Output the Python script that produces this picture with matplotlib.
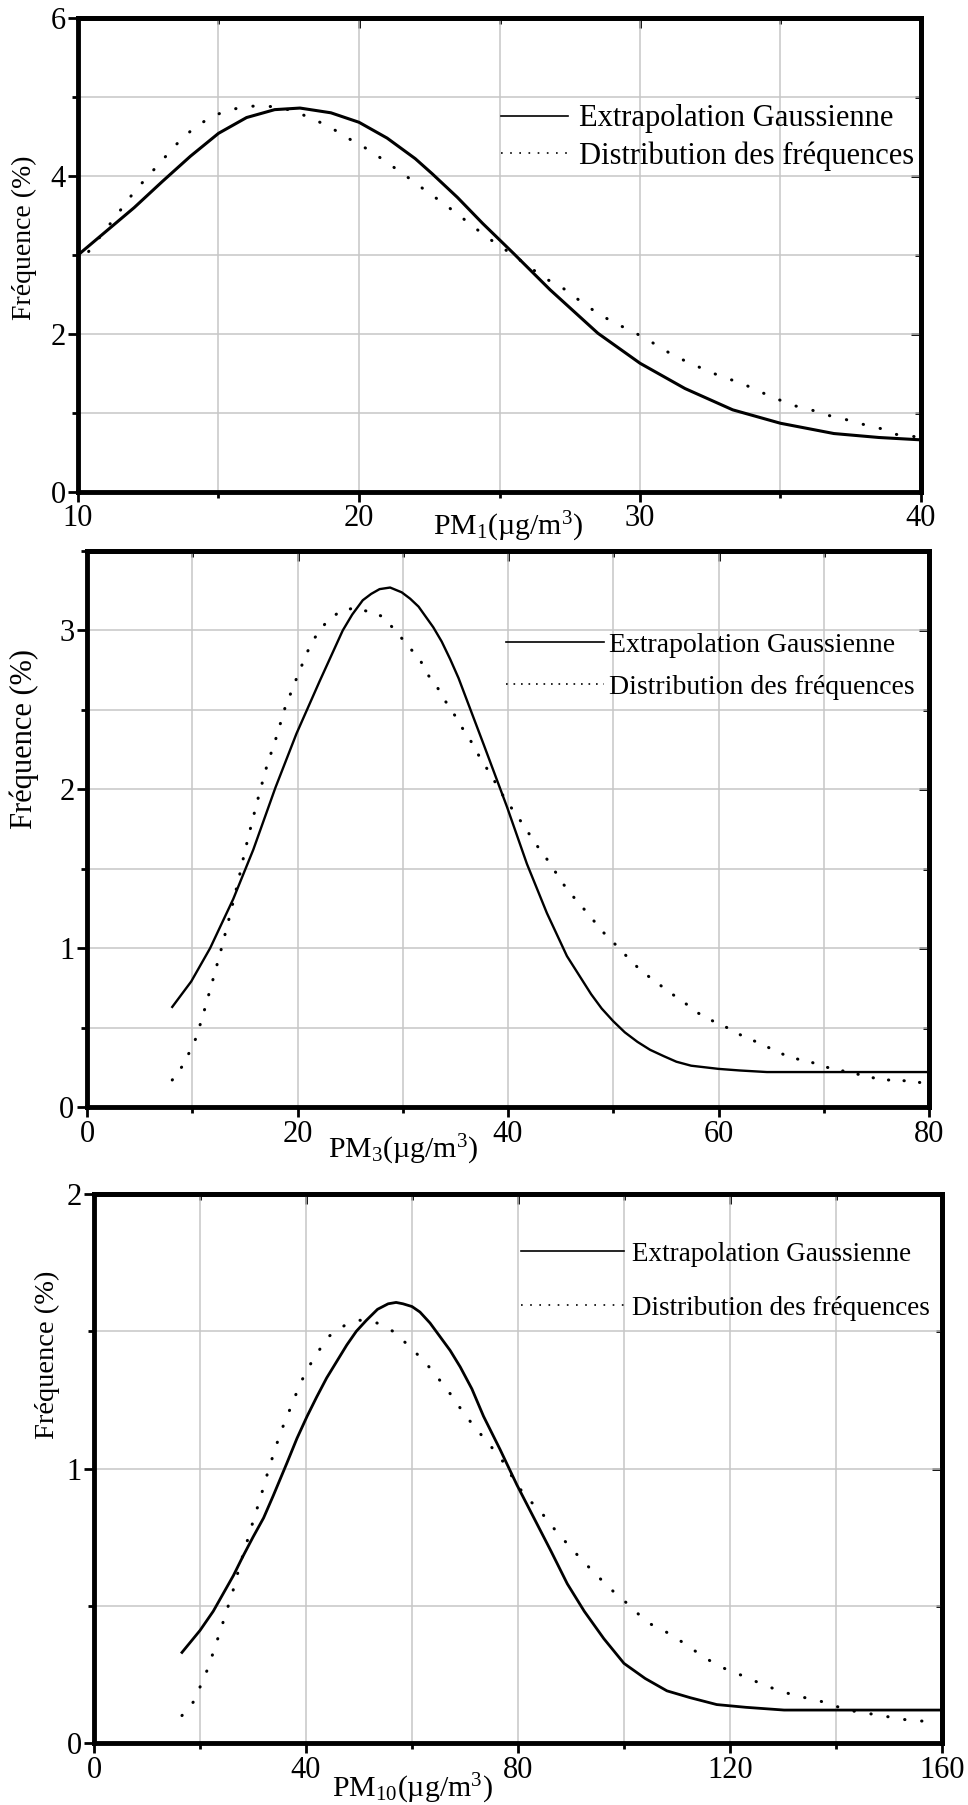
import matplotlib
matplotlib.use("Agg")
import matplotlib.pyplot as plt
from matplotlib.lines import Line2D
from matplotlib.ticker import MultipleLocator

plt.rcParams["font.family"] = ["Liberation Serif", "DejaVu Serif"]
plt.rcParams["mathtext.fontset"] = "custom"
plt.rcParams["mathtext.rm"] = "Liberation Serif"
plt.rcParams["mathtext.it"] = "Liberation Serif:italic"

# ---- data ----
# PM1 panel
pm1_gauss_x = [10, 11, 12, 13, 14, 15, 16, 17, 17.9, 19, 20, 21, 22, 22.6, 23.5,
               24.4, 25.5, 26.8, 28.5, 30, 31.6, 33.3, 35, 36.9, 38.5, 40]
pm1_gauss_y = [3.0, 3.3, 3.6, 3.93, 4.25, 4.54, 4.74, 4.84, 4.86, 4.80, 4.68, 4.48,
               4.22, 4.03, 3.73, 3.40, 3.02, 2.56, 2.01, 1.63, 1.31, 1.04, 0.87,
               0.74, 0.69, 0.66]
pm1_freq_x = [10, 10.5, 11.2, 12.0, 12.8, 13.5, 14.1, 14.7, 15.3, 16.0, 16.6, 17.3,
              17.9, 18.5, 19.1, 19.7, 20.4, 21.0, 21.6, 22.2, 22.9, 23.5, 24.1,
              24.7, 25.4, 26.6, 27.3, 27.9, 28.5, 29.1, 29.8, 30.4, 31.0, 31.6,
              32.3, 32.9, 33.6, 34.2, 34.8, 35.4, 36.0, 36.7, 37.3, 37.9, 38.6,
              39.1, 39.8]
pm1_freq_y = [2.87, 3.1, 3.42, 3.8, 4.12, 4.4, 4.6, 4.74, 4.83, 4.88, 4.89, 4.86,
              4.79, 4.70, 4.59, 4.46, 4.32, 4.17, 4.02, 3.86, 3.68, 3.52, 3.35,
              3.19, 3.02, 2.71, 2.57, 2.41, 2.26, 2.14, 2.02, 1.90, 1.77, 1.66,
              1.55, 1.46, 1.38, 1.28, 1.19, 1.10, 1.05, 0.97, 0.92, 0.86, 0.80,
              0.73, 0.70]

# PM3 panel
pm3_gauss_x = [8.1, 9.9, 11.7, 13.9, 15.8, 17.9, 19.9, 22.1, 24.3, 25.2, 26.2, 27.0,
               27.8, 28.8, 29.9, 30.7, 31.5, 32.9, 33.7, 34.5, 35.3, 36.1, 37.7,
               39.9, 41.8, 43.7, 45.6, 47.9, 48.9, 50.0, 51.1, 52.3, 53.5, 54.8,
               56.0, 57.4, 58.7, 60.0, 62.0, 64.6, 70.0, 80.0]
pm3_gauss_y = [0.63, 0.79, 1.0, 1.31, 1.62, 2.01, 2.35, 2.68, 3.0, 3.10, 3.19, 3.23,
               3.26, 3.27, 3.24, 3.20, 3.15, 3.02, 2.93, 2.82, 2.70, 2.56, 2.28,
               1.89, 1.53, 1.22, 0.95, 0.71, 0.62, 0.54, 0.47, 0.41, 0.36, 0.32,
               0.285, 0.26, 0.25, 0.24, 0.23, 0.22, 0.22, 0.22]
pm3_freq_x = [8.1, 9.2, 10.4, 11.2, 12.0, 12.7, 13.4, 14.4, 15.0, 15.7, 16.4, 17.1,
              18.0, 18.8, 19.8, 20.9, 21.6, 22.6, 24.0, 25.3, 26.7, 28.0, 29.3,
              30.4, 31.6, 32.4, 33.3, 34.1, 35.0, 35.8, 36.7, 37.4, 38.2, 39.8,
              40.8, 41.7, 42.7, 43.6, 44.5, 45.4, 46.5, 47.7, 48.9, 50.1, 51.4,
              52.6, 54.0, 55.4, 56.7, 58.1, 59.5, 60.8, 62.2, 63.6, 64.9, 66.2,
              67.6, 68.9, 70.3, 71.6, 73.0, 74.3, 75.6, 77.0, 78.4, 79.7]
pm3_freq_y = [0.17, 0.27, 0.44, 0.62, 0.81, 0.98, 1.16, 1.43, 1.61, 1.80, 1.98, 2.15,
              2.33, 2.51, 2.68, 2.86, 2.95, 3.04, 3.12, 3.14, 3.12, 3.09, 3.0,
              2.91, 2.82, 2.72, 2.64, 2.55, 2.46, 2.37, 2.28, 2.19, 2.11, 1.93,
              1.84, 1.75, 1.65, 1.57, 1.48, 1.39, 1.30, 1.21, 1.11, 1.03, 0.94,
              0.86, 0.79, 0.72, 0.66, 0.59, 0.54, 0.50, 0.45, 0.41, 0.37, 0.33,
              0.30, 0.28, 0.25, 0.23, 0.21, 0.19, 0.17, 0.17, 0.16, 0.15]

# PM10 panel
pm10_gauss_x = [16.6, 18.3, 20.0, 22.5, 24.4, 26.3, 28.1, 30.0, 32.0, 33.8, 36.4,
                38.3, 40.2, 42.0, 43.9, 45.8, 47.7, 49.5, 51.4, 53.5, 55.5, 57.0,
                58.3, 60.0, 61.5, 63.4, 65.3, 67.2, 69.1, 71.3, 73.5, 76.6, 79.8,
                83.0, 86.2, 89.3, 92.5, 96.2, 100.0, 104.0, 108.1, 112.5, 117.5,
                123.0, 130.2, 145.0, 160.0]
pm10_gauss_y = [0.33, 0.37, 0.41, 0.48, 0.545, 0.61, 0.68, 0.75, 0.82, 0.90, 1.02,
                1.11, 1.19, 1.26, 1.33, 1.39, 1.45, 1.50, 1.54, 1.58, 1.60, 1.605,
                1.60, 1.59, 1.57, 1.53, 1.48, 1.43, 1.37, 1.29, 1.19, 1.07, 0.94,
                0.82, 0.70, 0.58, 0.48, 0.38, 0.29, 0.235, 0.19, 0.165, 0.14,
                0.13, 0.12, 0.12, 0.12]
pm10_freq_x = [16.6, 19.2, 20.3, 21.7, 22.8, 23.9, 24.8, 25.7, 26.6, 27.4, 28.5, 29.3,
               30.2, 31.2, 32.1, 33.0, 34.0, 35.0, 36.2, 37.5, 38.7, 40.2, 42.1,
               44.2, 47.2, 50.2, 53.4, 56.4, 59.8, 62.8, 65.3, 67.7, 69.8, 72.3,
               74.5, 77.0, 78.9, 81.3, 84.0, 86.4, 89.1, 91.9, 94.9, 98.1, 101.1,
               104.3, 107.5, 110.8, 113.8, 117.0, 120.2, 123.2, 126.4, 129.6,
               132.6, 135.8, 139.1, 142.1, 145.3, 148.5, 151.5, 154.7, 158.5]
pm10_freq_y = [0.10, 0.16, 0.22, 0.28, 0.35, 0.41, 0.47, 0.52, 0.58, 0.64, 0.71, 0.76,
               0.82, 0.88, 0.94, 1.00, 1.06, 1.12, 1.18, 1.24, 1.30, 1.36, 1.42,
               1.48, 1.52, 1.54, 1.53, 1.50, 1.44, 1.38, 1.32, 1.26, 1.20, 1.14,
               1.09, 1.03, 0.97, 0.90, 0.85, 0.79, 0.73, 0.67, 0.61, 0.55, 0.50,
               0.44, 0.41, 0.37, 0.33, 0.29, 0.26, 0.24, 0.21, 0.19, 0.17, 0.16,
               0.14, 0.12, 0.11, 0.10, 0.09, 0.08, 0.08]

legend_labels = ["Extrapolation Gaussienne", "Distribution des fréquences"]
y_label = "Fréquence (%)"
x_labels = [r"PM$_1$(µg/m$^3$)", r"PM$_3$(µg/m$^3$)", r"PM$_{10}$(µg/m$^3$)"]

W, H = 968, 1805


def axes_rect(left, right, top, bottom):
    return [left / W, 1 - bottom / H, (right - left) / W, (bottom - top) / H]


# layout / style per panel
panels = [
    dict(rect=axes_rect(78, 921, 18, 492), gauss=(pm1_gauss_x, pm1_gauss_y),
         freq=(pm1_freq_x, pm1_freq_y), xlim=(10, 40), ylim=(0, 6),
         xmaj=10, xmin=5, ymaj=2, ymin=1, xlab=x_labels[0], xlab_pos=(0.51, -0.091),
         ylab_fs=20, ylab_pos=(-0.064, 0.536), glw=2.2, dots=(0.1, 5.6),
         leg_fs=22, leg_pos=(0.502, 0.748), leg_hl=2.2, leg_pad=0.34, leg_sp=0.25,
         leg_dots=(1, 4.5)),
    dict(rect=axes_rect(87, 929, 551, 1107), gauss=(pm3_gauss_x, pm3_gauss_y),
         freq=(pm3_freq_x, pm3_freq_y), xlim=(0, 80), ylim=(0, 3.5),
         xmaj=20, xmin=10, ymaj=1, ymin=0.5, xlab=x_labels[1], xlab_pos=(0.375, -0.092),
         ylab_fs=22, ylab_pos=(-0.075, 0.662), glw=1.7, dots=(0.1, 5.0),
         leg_fs=20, leg_pos=(0.498, 0.793), leg_hl=3.5, leg_pad=0.18, leg_sp=0.6,
         leg_dots=(1, 3.5)),
    dict(rect=axes_rect(94, 942, 1194, 1743), gauss=(pm10_gauss_x, pm10_gauss_y),
         freq=(pm10_freq_x, pm10_freq_y), xlim=(0, 160), ylim=(0, 2),
         xmaj=40, xmin=20, ymaj=1, ymin=0.5, xlab=x_labels[2], xlab_pos=(0.376, -0.098),
         ylab_fs=20.5, ylab_pos=(-0.055, 0.707), glw=2.0, dots=(0.1, 5.5),
         leg_fs=19.5, leg_pos=(0.504, 0.841), leg_hl=3.8, leg_pad=0.3, leg_sp=1.07,
         leg_dots=(1, 4.5)),
]

SPINE_W = 3.5
TICK_FS = 22

fig = plt.figure(figsize=(W / 100, H / 100), dpi=100)

for p in panels:
    ax = fig.add_axes(p["rect"])
    gx, gy = p["gauss"]
    fx, fy = p["freq"]
    ax.plot(gx, gy, color="black", lw=p["glw"], solid_joinstyle="round")
    ax.plot(fx, fy, color="black", lw=2.2, linestyle=(0, p["dots"]),
            dash_capstyle="round")

    ax.set_xlim(*p["xlim"])
    ax.set_ylim(*p["ylim"])
    ax.xaxis.set_major_locator(MultipleLocator(p["xmaj"]))
    ax.xaxis.set_minor_locator(MultipleLocator(p["xmin"]))
    ax.yaxis.set_major_locator(MultipleLocator(p["ymaj"]))
    ax.yaxis.set_minor_locator(MultipleLocator(p["ymin"]))
    ax.grid(True, which="both", color="#c6c6c6", lw=1.1)
    ax.set_axisbelow(True)

    for s in ax.spines.values():
        s.set_linewidth(SPINE_W)
    ax.tick_params(which="both", direction="out", top=False, right=False,
                   labelsize=TICK_FS, width=2, pad=2)
    ax.tick_params(which="major", length=7)
    ax.tick_params(which="minor", length=4)

    # ticks pointing inward on the top and right edges
    top = ax.secondary_xaxis("top")
    top.xaxis.set_major_locator(MultipleLocator(p["xmaj"]))
    top.xaxis.set_minor_locator(MultipleLocator(p["xmin"]))
    top.tick_params(which="both", direction="in", labeltop=False, width=2)
    top.tick_params(which="major", length=7)
    top.tick_params(which="minor", length=4)
    top.spines["top"].set_linewidth(SPINE_W)
    right = ax.secondary_yaxis("right")
    right.yaxis.set_major_locator(MultipleLocator(p["ymaj"]))
    right.yaxis.set_minor_locator(MultipleLocator(p["ymin"]))
    right.tick_params(which="both", direction="in", labelright=False, width=2)
    right.tick_params(which="major", length=7)
    right.tick_params(which="minor", length=4)
    right.spines["right"].set_linewidth(SPINE_W)

    ax.set_xlabel(p["xlab"], fontsize=21.5, va="baseline")
    ax.xaxis.set_label_coords(*p["xlab_pos"])
    ax.set_ylabel(y_label, fontsize=p["ylab_fs"], va="center")
    ax.yaxis.set_label_coords(*p["ylab_pos"])

    handles = [Line2D([], [], color="black", lw=1.2),
               Line2D([], [], color="black", lw=1.2, linestyle=(0, p["leg_dots"]))]
    ax.legend(handles, legend_labels, loc="center left",
              bbox_to_anchor=p["leg_pos"], frameon=False, fontsize=p["leg_fs"],
              handlelength=p["leg_hl"], handletextpad=p["leg_pad"],
              labelspacing=p["leg_sp"], borderpad=0, borderaxespad=0)

fig.savefig("out.png", dpi=100, facecolor="white")
